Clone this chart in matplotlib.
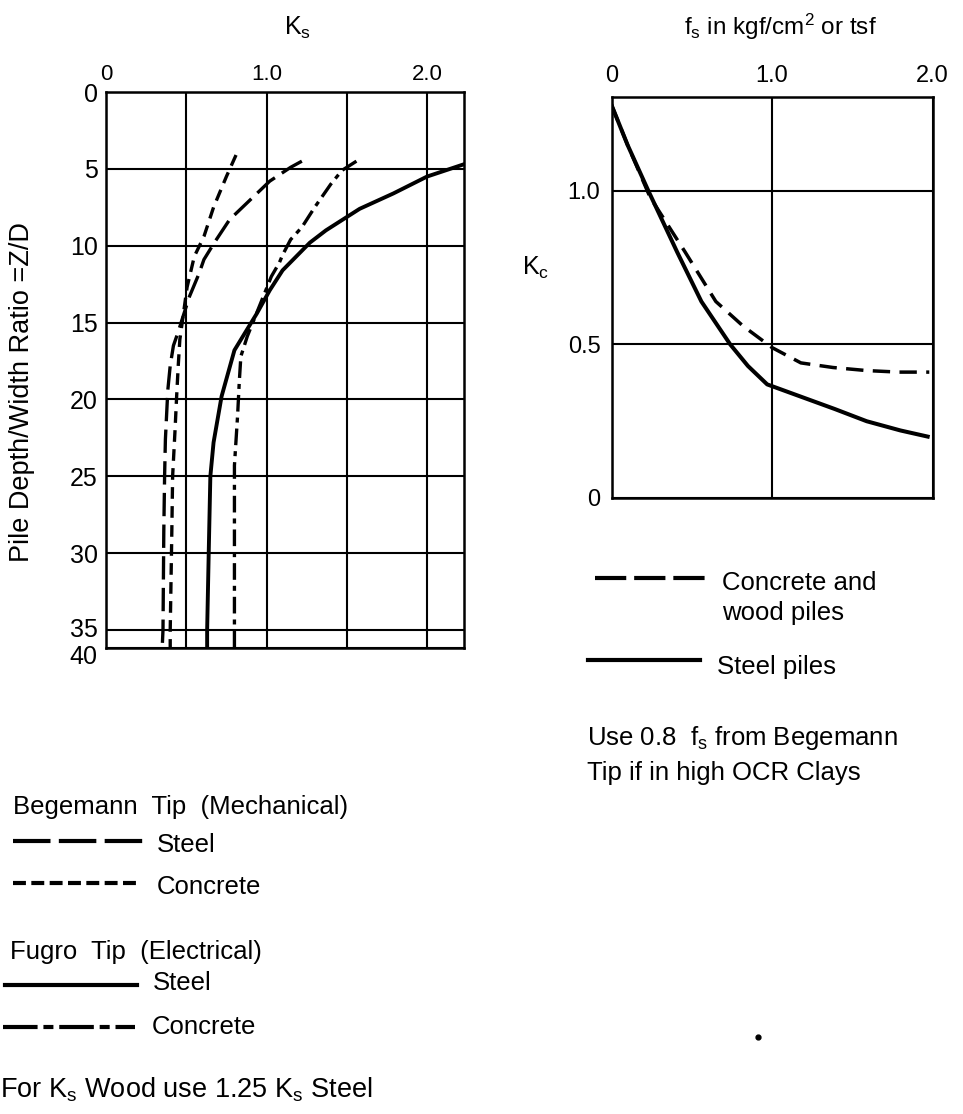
import numpy as np
import matplotlib
matplotlib.use("Agg")
import matplotlib.pyplot as plt
from matplotlib.lines import Line2D
from matplotlib.transforms import ScaledTranslation

plt.rcParams['font.family'] = ['Liberation Sans', 'DejaVu Sans']
plt.rcParams['mathtext.default'] = 'regular'

# ---------------- data (left chart: Ks vs Z/D) ----------------
begemann_steel_K = [1.22, 1.15, 1.02, 0.88, 0.77, 0.675, 0.61, 0.58, 0.52, 0.48, 0.45, 0.42, 0.40, 0.385, 0.37, 0.365, 0.36, 0.355, 0.35]
begemann_steel_Z = [4.5, 4.9, 5.8, 7.2, 8.3, 9.8, 10.9, 11.8, 13.3, 14.6, 15.6, 16.5, 17.8, 19.4, 22.6, 25, 28.6, 35, 40]

begemann_concrete_K = [0.81, 0.75, 0.67, 0.61, 0.55, 0.505, 0.48, 0.46, 0.45, 0.44, 0.43, 0.415, 0.41, 0.40, 0.40]
begemann_concrete_Z = [4.1, 5.5, 7.5, 9.4, 10.7, 12.7, 14.6, 16.1, 17.8, 19.8, 22, 25, 28.6, 35, 40]

fugro_steel_K = [2.23, 2.0, 1.79, 1.58, 1.37, 1.27, 1.10, 1.02, 0.94, 0.80, 0.72, 0.67, 0.65, 0.64, 0.63, 0.63]
fugro_steel_Z = [4.7, 5.5, 6.6, 7.6, 9.0, 9.8, 11.6, 12.9, 14.4, 16.8, 19.8, 22.8, 25, 29.9, 35, 40]

fugro_concrete_K = [1.56, 1.47, 1.40, 1.30, 1.22, 1.15, 1.10, 1.08, 1.03, 0.98, 0.88, 0.84, 0.83, 0.82, 0.80, 0.80, 0.80, 0.80]
fugro_concrete_Z = [4.5, 5.1, 6.0, 7.5, 8.8, 9.6, 10.6, 11.1, 12, 13.3, 15.9, 17.2, 18.9, 21, 24.3, 28.6, 35, 40]

left_xticks = [0, 0.5, 1.0, 1.5, 2.0]
left_xticklabels = ['0', '', '1.0', '', '2.0']
left_yticks = [0, 5, 10, 15, 20, 25, 30, 35, 40]

# ---------------- data (right chart: Kc vs fs) ----------------
fs_steel = [0, 0.1, 0.23, 0.41, 0.56, 0.74, 0.85, 0.97, 1.18, 1.39, 1.59, 1.80, 1.97]
kc_steel = [1.28, 1.15, 1.0, 0.80, 0.64, 0.50, 0.43, 0.37, 0.33, 0.29, 0.25, 0.22, 0.20]

fs_concrete = [0, 0.1, 0.24, 0.46, 0.65, 0.82, 1.0, 1.18, 1.38, 1.59, 1.79, 1.98]
kc_concrete = [1.28, 1.15, 0.98, 0.80, 0.64, 0.56, 0.49, 0.44, 0.425, 0.415, 0.41, 0.41]

right_xticks = [0, 1.0, 2.0]
right_xticklabels = ['0', '1.0', '2.0']
right_yticks = [0, 0.5, 1.0]
right_yticklabels = ['0', '0.5', '1.0']

W, H = 963, 1114
fig = plt.figure(figsize=(W / 100, H / 100), dpi=100)


def fx(px):
    return px / W


def fy(py):
    return 1 - py / H


# ---------- left axes ----------
axL = fig.add_axes([fx(106), fy(648), (464 - 106) / W, (648 - 92) / H])


def fwd(z):
    z = np.asarray(z, dtype=float)
    return np.where(z <= 35, z, 35 + (z - 35) * 0.234)


def inv(v):
    v = np.asarray(v, dtype=float)
    return np.where(v <= 35, v, 35 + (v - 35) / 0.234)


axL.set_yscale('function', functions=(fwd, inv))
axL.set_xlim(0, 2.23)
axL.set_ylim(40, 0)

lw = 2.4
axL.plot(begemann_steel_K, begemann_steel_Z, color='black', lw=lw, dashes=(7, 2.5))
axL.plot(begemann_concrete_K, begemann_concrete_Z, color='black', lw=lw, dashes=(3.5, 2.2))
axL.plot(fugro_steel_K, fugro_steel_Z, color='black', lw=2.8)
axL.plot(fugro_concrete_K, fugro_concrete_Z, color='black', lw=lw, dashes=(5, 1.8, 1.5, 1.8))

axL.xaxis.tick_top()
axL.set_xticks(left_xticks)
axL.set_xticklabels(left_xticklabels, fontsize=16)
axL.set_yticks(left_yticks)
axL.set_yticklabels([str(v) for v in left_yticks], fontsize=18)
axL.yaxis.set_minor_locator(matplotlib.ticker.NullLocator())
axL.tick_params(axis='both', length=0)
axL.tick_params(axis='x', pad=5)
axL.tick_params(axis='y', pad=6)
axL.grid(True, color='black', lw=1.5)
for s in axL.spines.values():
    s.set_linewidth(1.8)

# nudge the two crowded bottom labels apart (35 up, 40 down)
yticks_objs = axL.yaxis.get_major_ticks()
lab35 = yticks_objs[-2].label1
lab40 = yticks_objs[-1].label1
lab35.set_transform(lab35.get_transform() + ScaledTranslation(0, 3 / 100, fig.dpi_scale_trans))
lab40.set_transform(lab40.get_transform() + ScaledTranslation(0, -6 / 100, fig.dpi_scale_trans))

# ---------- right axes ----------
axR = fig.add_axes([fx(611.5), fy(498), (932.5 - 611.5) / W, (498 - 97) / H])
axR.set_xlim(0, 2.0)
axR.set_ylim(0, 1.306)
axR.plot(fs_steel, kc_steel, color='black', lw=2.9)
axR.plot(fs_concrete, kc_concrete, color='black', lw=2.5, dashes=(5, 2.7))
axR.xaxis.tick_top()
axR.set_xticks(right_xticks)
axR.set_xticklabels(right_xticklabels, fontsize=17)
axR.set_yticks(right_yticks)
axR.set_yticklabels(right_yticklabels, fontsize=17)
axR.tick_params(axis='both', length=0)
axR.tick_params(axis='x', pad=7)
axR.tick_params(axis='y', pad=8)
axR.grid(True, color='black', lw=1.5)
for s in axR.spines.values():
    s.set_linewidth(1.8)

# ---------- axis titles ----------
fig.text(fx(298), fy(28), 'K$_s$', fontsize=18, ha='center', va='center')
fig.text(fx(780), fy(27), 'f$_s$ in kgf/cm$^2$ or tsf', fontsize=17.5, ha='center', va='center')
fig.text(fx(22), fy(392), 'Pile Depth/Width Ratio =Z/D', fontsize=19.5, rotation=90,
         ha='center', va='center')
fig.text(fx(536), fy(268), 'K$_c$', fontsize=18, ha='center', va='center')

# ---------- left legend ----------
tfs = 18.5


def sample(x0, x1, y, **kw):
    fig.add_artist(Line2D([fx(x0), fx(x1)], [fy(y), fy(y)], transform=fig.transFigure,
                          color='black', **kw))


fig.text(fx(13), fy(807), 'Begemann  Tip  (Mechanical)', fontsize=tfs, va='center', ha='left')
sample(13, 143, 841, lw=3, dashes=(9, 2))
fig.text(fx(157), fy(845), 'Steel', fontsize=tfs, va='center', ha='left')
sample(13, 140, 883, lw=3, dashes=(3.1, 1.3))
fig.text(fx(157), fy(887), 'Concrete', fontsize=tfs, va='center', ha='left')

fig.text(fx(10), fy(952), 'Fugro  Tip  (Electrical)', fontsize=tfs, va='center', ha='left')
sample(5, 137, 985, lw=3)
fig.text(fx(153), fy(983), 'Steel', fontsize=tfs, va='center', ha='left')
sample(3, 135, 1027, lw=3, dashes=(8.3, 1.4, 2.4, 1.4))
fig.text(fx(152), fy(1027), 'Concrete', fontsize=tfs, va='center', ha='left')

fig.text(fx(0), fy(1090), 'For K$_s$ Wood use 1.25 K$_s$ Steel', fontsize=19.5, va='center', ha='left')

# ---------- right legend ----------
sample(595, 705, 578, lw=3, dashes=(7.5, 1.9))
fig.text(fx(722), fy(583), 'Concrete and', fontsize=tfs, va='center', ha='left')
fig.text(fx(722), fy(613), 'wood piles', fontsize=tfs, va='center', ha='left')
sample(588, 700, 660, lw=3)
fig.text(fx(717), fy(667), 'Steel piles', fontsize=tfs, va='center', ha='left')
fig.text(fx(587), fy(738), 'Use 0.8  f$_s$ from Begemann', fontsize=tfs, va='center', ha='left')
fig.text(fx(587), fy(773), 'Tip if in high OCR Clays', fontsize=tfs, va='center', ha='left')

# small speck in the scan
fig.add_artist(Line2D([fx(758)], [fy(1037)], transform=fig.transFigure, marker='o',
                      markersize=3.5, color='black', lw=0))

fig.savefig('out.png', dpi=100)
